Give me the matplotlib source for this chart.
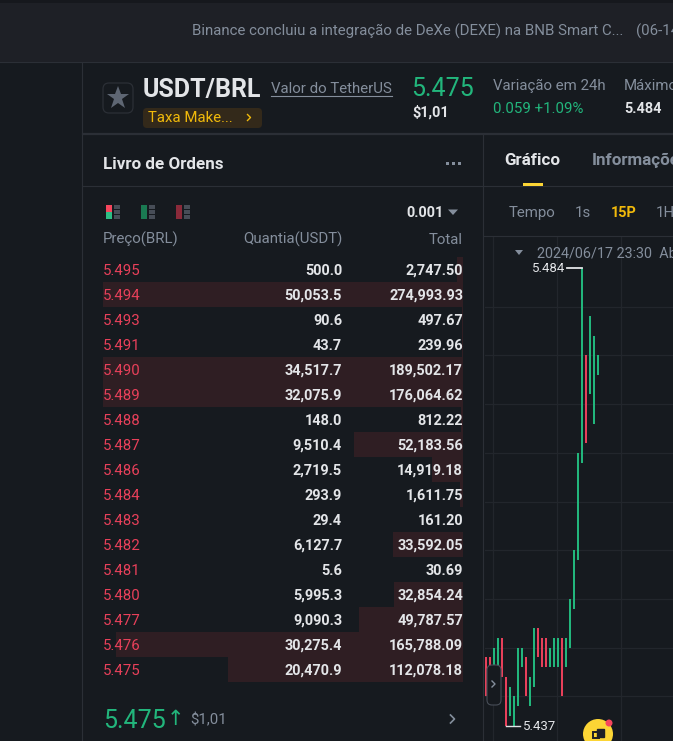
import matplotlib
matplotlib.use('Agg')
from matplotlib import pyplot as plt
from matplotlib.patches import Circle, FancyBboxPatch, Rectangle

W, H = 673, 741
PANEL = '#161a1f'
TOPBAR = '#1e2026'
LINE = '#2b2f36'
GRID = '#22262c'
GRAY = '#848e9c'
WHITE = '#e3e5e8'
GREEN = '#22b67c'
RED = '#e8405a'
YELLOW = '#f0b90b'

plt.rcParams['font.family'] = ['Roboto', 'DejaVu Sans']

# livro de ordens
prices = ['5.495', '5.494', '5.493', '5.491', '5.490', '5.489', '5.488', '5.487', '5.486',
          '5.484', '5.483', '5.482', '5.481', '5.480', '5.477', '5.476', '5.475']
quantities = [500.0, 50053.5, 90.6, 43.7, 34517.7, 32075.9, 148.0, 9510.4, 2719.5,
              293.9, 29.4, 6127.7, 5.6, 5995.3, 9090.3, 30275.4, 20470.9]
totals = [2747.50, 274993.93, 497.67, 239.96, 189502.17, 176064.62, 812.22, 52183.56, 14919.18,
          1611.75, 161.20, 33592.05, 30.69, 32854.24, 49787.57, 165788.09, 112078.18]

# candles (15P), sobem = verde
candle_high = [5.444, 5.444, 5.445, 5.446, 5.446, 5.442, 5.441, 5.440, 5.445, 5.445,
               5.444, 5.442, 5.447, 5.447, 5.446, 5.446, 5.445, 5.446, 5.446, 5.446,
               5.446, 5.450, 5.455, 5.465, 5.484, 5.475, 5.479, 5.477, 5.475]
candle_low = [5.440, 5.442, 5.443, 5.443, 5.442, 5.437, 5.438, 5.437, 5.439, 5.443,
              5.440, 5.439, 5.441, 5.444, 5.443, 5.443, 5.443, 5.443, 5.443, 5.440,
              5.443, 5.445, 5.449, 5.454, 5.464, 5.466, 5.471, 5.468, 5.473]
candle_up = [0, 0, 1, 1, 0, 0, 1, 1, 1, 1,
             0, 1, 1, 0, 0, 0, 1, 1, 1, 0,
             1, 1, 1, 1, 1, 0, 1, 1, 1]
price_grid = [5.480, 5.475, 5.470, 5.465, 5.460, 5.455, 5.450, 5.445, 5.440]
time_grid = [1.75, 17.75, 33.75]


def px_axes(x0, y0, x1, y1, zorder=1):
    a = fig.add_axes([x0 / W, 1 - y1 / H, (x1 - x0) / W, (y1 - y0) / H], zorder=zorder)
    a.axis('off')
    return a


def label(x, y, s, color=GRAY, size=15, ha='left', weight='normal'):
    # size em px da tela, baseline inteira para as linhas nao oscilarem
    return ax.text(x, y + round(size * 0.36), s, color=color, fontsize=size * 0.72, ha=ha,
                   va='baseline', fontweight=weight, clip_on=True)


fig = plt.figure(figsize=(W / 100, H / 100), dpi=100, facecolor=PANEL)

# camada de fundo e textos em pixels
ax = px_axes(0, 0, W, H, zorder=3)
ax.set_xlim(0, W)
ax.set_ylim(H, 0)
bg = px_axes(0, 0, W, H, zorder=0)
bg.set_xlim(0, W)
bg.set_ylim(H, 0)
bg.add_patch(Rectangle((0, 0), W, 62, color=TOPBAR, lw=0))
bg.add_patch(Rectangle((0, 0), W, 3, color='#16181d', lw=0))
bg.plot([0, W], [61.8, 61.8], color=LINE, lw=0.8)
bg.plot([82.2, 82.2], [62, H], color=LINE, lw=0.8)
bg.plot([83, W], [133.5, 133.5], color=LINE, lw=1.6)
bg.plot([83, W], [186, 186], color=LINE, lw=0.8)
bg.plot([483, 483], [134, H], color=LINE, lw=0.8)
bg.plot([484, W], [236, 236], color=LINE, lw=0.8)

# barra superior
label(192, 31, 'Binance concluiu a integração de DeXe (DEXE) na BNB Smart C...', size=15)
label(636, 31, '(06-14', size=15)

# cabecalho
ax.add_patch(FancyBboxPatch((106, 86), 24, 24, boxstyle='round,pad=3,rounding_size=6',
                            fc=PANEL, ec=LINE, lw=0.9))
ax.plot([118], [98], marker='*', ms=17, color='#5e6673', mew=0)
label(143, 88, 'USDT/BRL', WHITE, 25, weight='bold')
label(271, 88, 'Valor do TetherUS', size=15)
ax.plot([271, 392], [95.5, 95.5], color=GRAY, lw=0.8)
label(411, 87, '5.475', GREEN, 25)
label(412, 112, '$1,01', WHITE, 14.5, weight='bold')
label(493, 85, 'Variação em 24h', size=15)
label(493, 108, '0.059 +1.09%', GREEN, 15)
label(624, 85, 'Máximo', size=15)
label(624, 108, '5.484', WHITE, 14.5, weight='bold')
ax.add_patch(FancyBboxPatch((147, 112), 111, 12, boxstyle='round,pad=4,rounding_size=4',
                            fc='#33291a', ec='none'))
label(148, 117, 'Taxa Make...', YELLOW, 15)
ax.plot([247.5, 250.5, 247.5], [114.5, 117.5, 120.5], color=YELLOW, lw=1)

# cabecalho do livro
label(103, 163, 'Livro de Ordens', WHITE, 17, weight='bold')
for dot_x in [447, 453, 459]:
    ax.add_patch(Rectangle((dot_x - 1.5, 161.5), 3, 3, color=GRAY, lw=0))
label(504, 159, 'Gráfico', WHITE, 17, weight='bold')
label(592, 159, 'Informações', GRAY, 17, weight='bold')
ax.add_patch(Rectangle((523, 183), 20, 3, color='#fcd535', lw=0))
label(509, 212, 'Tempo')
label(575, 212, '1s')
label(611, 212, '15P', YELLOW, 14.5, weight='bold')
label(656, 212, '1H')

# icones de modo do livro
for icon_x, top, bottom in [(106, '#f6465d', '#2ebd85'), (141, '#1a7a52', '#1a7a52'),
                            (176, '#8a2a3a', '#8a2a3a')]:
    ax.add_patch(Rectangle((icon_x, 205), 6, 7, color=top, lw=0))
    ax.add_patch(Rectangle((icon_x, 212), 6, 7, color=bottom, lw=0))
    for bar_y in [205, 210, 215]:
        ax.add_patch(Rectangle((icon_x + 8, bar_y), 6, 4, color='#474d57', lw=0))
label(406, 212, '0.001', WHITE, 14.5, weight='bold')
ax.fill([448, 458, 453], [209.5, 209.5, 215], color=GRAY, lw=0)

label(103, 239, 'Preço(BRL)')
label(342, 239, 'Quantia(USDT)', ha='right')
label(463, 239, 'Total', ha='right')

# barras de profundidade, saturam na largura da coluna
depth = px_axes(103, 257, 463, 682, zorder=1)
depth.barh(range(len(quantities)), quantities, height=1.0, color='#2f1e23', lw=0)
depth.set_xlim(31400, 0)
depth.set_ylim(len(quantities) - 0.5, -0.5)

for i, (price, qty, total) in enumerate(zip(prices, quantities, totals)):
    y = 270 + 25 * i
    label(103, y, price, RED, 15)
    label(342, y, f'{qty:,.1f}', WHITE, 14.5, ha='right', weight='bold')
    label(463, y, f'{total:,.2f}', WHITE, 14.5, ha='right', weight='bold')

# preco atual
label(103, 719, '5.475', GREEN, 25)
ax.text(167, 719, '↑', color=GREEN, fontsize=15, ha='left', va='center', family='DejaVu Sans')
label(190, 719, '$1,01')
ax.plot([450.5, 454.5, 450.5], [715, 719, 723], color=GRAY, lw=1.2)

# grafico de candles
chart = px_axes(485, 237, 673, 741, zorder=2)
chart.set_xlim(-0.25, 46.75)
chart.set_ylim(5.43541, 5.48716)
for p in price_grid:
    chart.axhline(p, color=GRID, lw=0.9, zorder=1)
for t in time_grid:
    chart.axvline(t, color=GRID, lw=0.9, zorder=1)
for i, (high, low, up) in enumerate(zip(candle_high, candle_low, candle_up)):
    chart.bar(i, high - low, bottom=low, width=0.5, color=GREEN if up else RED, lw=0, zorder=2)

chart.plot([20.25, 24], [max(candle_high)] * 2, color=WHITE, lw=1.3, zorder=3)
chart.text(19.8, max(candle_high) + 0.0001, '5.484', color=WHITE, fontsize=9.5, ha='right', va='center_baseline')
chart.plot([5, 8.5], [min(candle_low)] * 2, color=WHITE, lw=1, zorder=3)
chart.text(9.3, min(candle_low) + 0.0001, '5.437', color=WHITE, fontsize=9.5, ha='left', va='center_baseline')

ax.fill([515, 523, 519], [250, 250, 255], color=GRAY, lw=0)
label(537, 252, '2024/06/17 23:30  Ab', size=14.4)

# botao lateral e atalho amarelo
ax.add_patch(FancyBboxPatch((490, 668), 8, 34, boxstyle='round,pad=3,rounding_size=5',
                            fc=PANEL, ec='#474d57', lw=0.8))
ax.plot([492, 495, 492], [681, 684, 687], color=GRAY, lw=1)
ax.add_patch(Circle((598, 734), 15, color='#fcd535', lw=0))
ax.add_patch(Circle((609, 723), 3.5, color='#f6465d', lw=0))
ax.add_patch(Rectangle((592.5, 732), 6, 6, fc='none', ec='#1e2026', lw=1.4))
ax.add_patch(Rectangle((597, 729), 7, 8, fc='#1e2026', ec='#1e2026', lw=1))

plt.savefig('out.png', dpi=100, facecolor=PANEL)
plt.close()
